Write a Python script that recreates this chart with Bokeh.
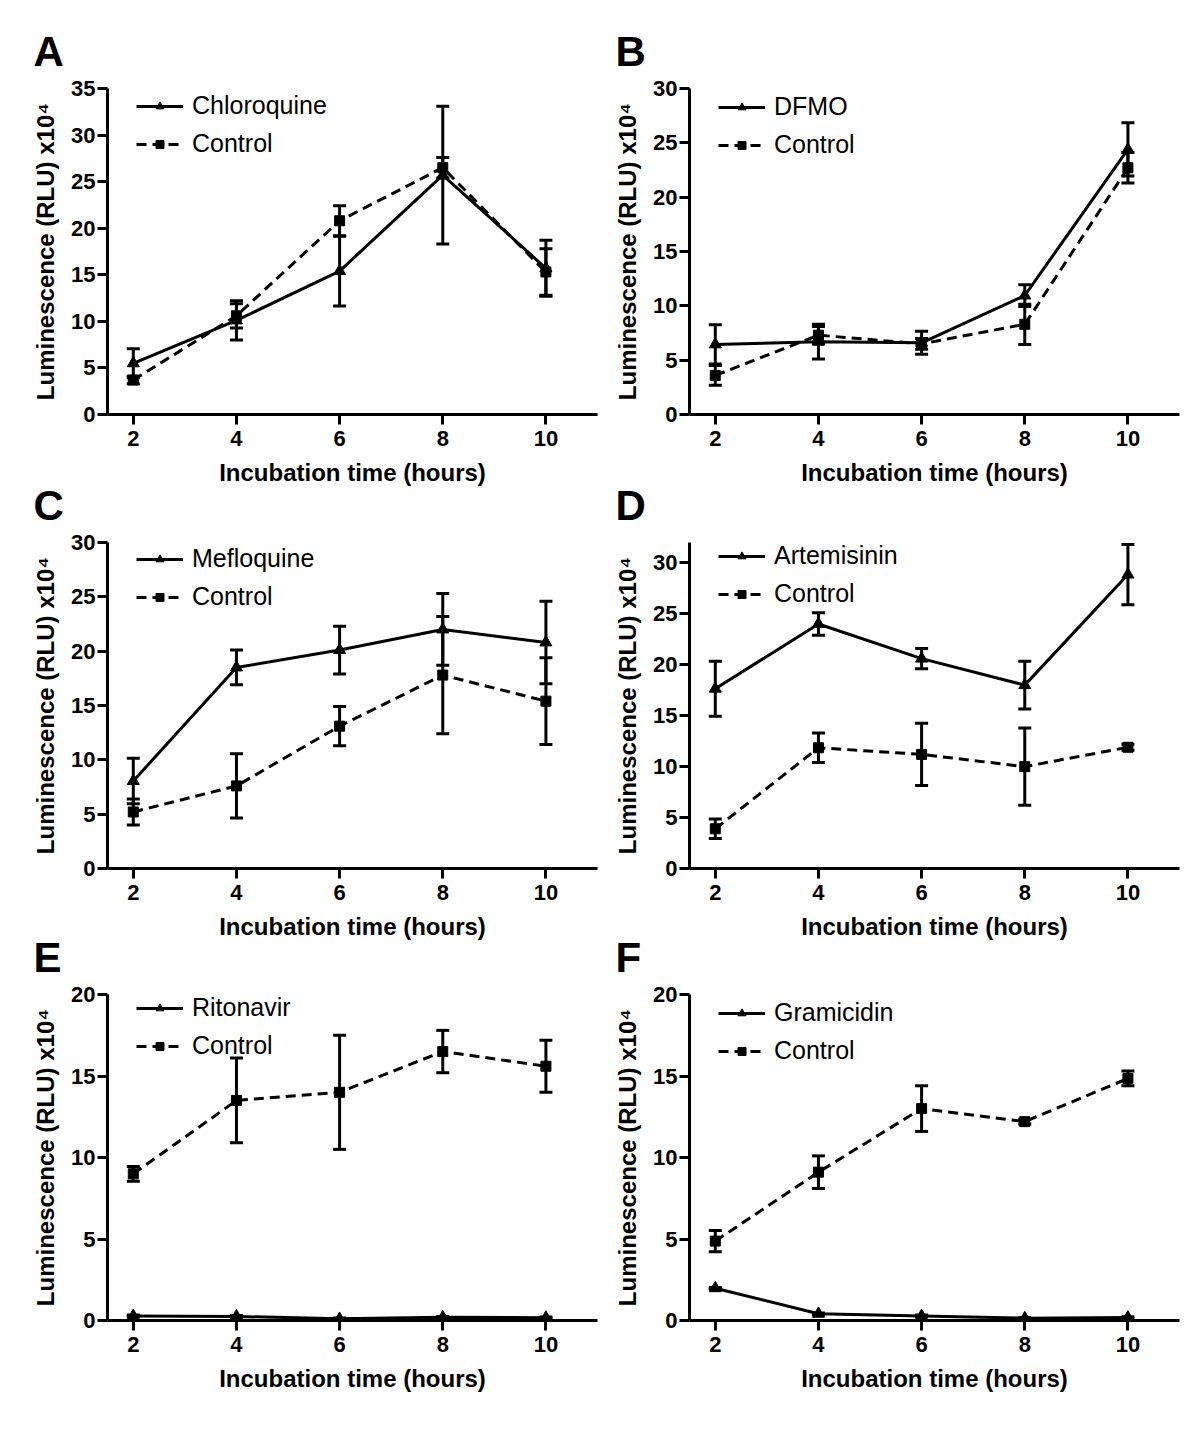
from bokeh.plotting import figure
from bokeh.models import (Range1d, FixedTicker, Legend, LegendItem, Whisker,
                          ColumnDataSource, TeeHead)
from bokeh.layouts import column, row
from bokeh.embed import file_html
from bokeh.resources import INLINE

# ---------------- data ----------------
hours = [2, 4, 6, 8, 10]

chloroquine_mean = [5.5, 10.1, 15.4, 25.7, 15.7]
chloroquine_err = [1.55, 2.1, 3.75, 7.4, 3.0]
control_a_mean = [3.7, 10.6, 20.8, 26.5, 15.3]
control_a_err = [0.4, 1.3, 1.6, 1.1, 2.5]

dfmo_mean = [6.45, 6.7, 6.6, 10.95, 24.4]
dfmo_err = [1.8, 1.6, 1.05, 1.0, 2.45]
control_b_mean = [3.6, 7.3, 6.5, 8.3, 22.7]
control_b_err = [0.9, 0.8, 0.5, 1.85, 1.4]

mefloquine_mean = [8.05, 18.5, 20.1, 22.0, 20.8]
mefloquine_err = [2.1, 1.6, 2.2, 3.3, 3.8]
control_c_mean = [5.2, 7.6, 13.1, 17.8, 15.4]
control_c_err = [1.2, 2.95, 1.8, 5.4, 4.0]

artemisinin_mean = [17.65, 24.0, 20.6, 18.0, 28.85]
artemisinin_err = [2.7, 1.1, 1.0, 2.35, 2.95]
control_d_mean = [3.9, 11.85, 11.2, 10.0, 11.9]
control_d_err = [0.95, 1.45, 3.05, 3.8, 0.3]

ritonavir_mean = [0.28, 0.25, 0.1, 0.2, 0.17]
ritonavir_err = [0.05, 0.05, 0.05, 0.05, 0.05]
control_e_mean = [9.0, 13.5, 14.0, 16.5, 15.6]
control_e_err = [0.45, 2.6, 3.5, 1.3, 1.6]

gramicidin_mean = [1.98, 0.41, 0.28, 0.14, 0.18]
gramicidin_err = [0.05, 0.05, 0.05, 0.05, 0.05]
control_f_mean = [4.87, 9.1, 13.0, 12.2, 14.85]
control_f_err = [0.65, 1.0, 1.4, 0.15, 0.45]

x_ticks = [2, 4, 6, 8, 10]
x_title = "Incubation time (hours)"
y_title = "Luminescence (RLU) x10\u2074"

# ---------------- styling ----------------
FONT = "Liberation Sans"
FRAME_W = 490
FRAME_H = 326
LEG_H = 67


def make_panel(letter, drug, drug_mean, drug_err, ctrl_mean, ctrl_err, ymax, yticks,
               left, right, top, bottom, legend_row1):
    p = figure(frame_width=FRAME_W, frame_height=FRAME_H,
               x_range=Range1d(1.5, 11.0), y_range=Range1d(0, ymax),
               output_backend="svg", toolbar_location=None,
               min_border_left=left, min_border_right=right,
               min_border_top=top, min_border_bottom=bottom,
               background_fill_color="white", background_fill_alpha=0,
               border_fill_color="white", border_fill_alpha=0)
    p.outline_line_color = None
    p.xgrid.visible = False
    p.ygrid.visible = False

    # panel letter as title
    p.title.text = letter
    p.title.text_font = FONT
    p.title.text_font_style = "bold"
    p.title.text_font_size = "42px"
    p.title.text_color = "black"
    p.title.align = "left"
    p.title.offset = -74
    p.title.standoff = 28

    for ax in (p.xaxis[0], p.yaxis[0]):
        ax.axis_line_width = 3
        ax.axis_line_color = "black"
        ax.major_tick_line_width = 3
        ax.major_tick_line_color = "black"
        ax.major_tick_out = 10
        ax.major_tick_in = 0
        ax.minor_tick_out = 0
        ax.minor_tick_in = 0
        ax.minor_tick_line_color = None
        ax.major_label_text_font = FONT
        ax.major_label_text_font_style = "bold"
        ax.major_label_text_font_size = "22px"
        ax.major_label_text_color = "black"
        ax.axis_label_text_font = FONT
        ax.axis_label_text_font_style = "bold"
        ax.axis_label_text_font_size = "24px"
        ax.axis_label_text_color = "black"
    p.xaxis.ticker = FixedTicker(ticks=x_ticks)
    p.yaxis.ticker = FixedTicker(ticks=yticks)
    p.xaxis.axis_label = x_title
    p.yaxis.axis_label = y_title
    p.xaxis.major_label_standoff = 6
    p.yaxis.major_label_standoff = 2
    p.xaxis.axis_label_standoff = 10
    p.yaxis.axis_label_standoff = 9

    dsrc = ColumnDataSource(dict(x=hours, y=drug_mean,
                                 upper=[m + e for m, e in zip(drug_mean, drug_err)],
                                 lower=[m - e for m, e in zip(drug_mean, drug_err)]))
    csrc = ColumnDataSource(dict(x=hours, y=ctrl_mean,
                                 upper=[m + e for m, e in zip(ctrl_mean, ctrl_err)],
                                 lower=[m - e for m, e in zip(ctrl_mean, ctrl_err)]))

    for src in (dsrc, csrc):
        w = Whisker(source=src, base="x", upper="upper", lower="lower",
                    line_width=3, line_color="black",
                    upper_head=TeeHead(size=13, line_width=3, line_color="black"),
                    lower_head=TeeHead(size=13, line_width=3, line_color="black"))
        p.add_layout(w)

    l1 = p.line("x", "y", source=dsrc, line_width=3, line_color="black")
    m1 = p.scatter("x", "y", source=dsrc, marker="triangle", size=12,
                   fill_color="black", line_color="black")
    l2 = p.line("x", "y", source=csrc, line_width=3, line_color="black", line_dash="10 6")
    m2 = p.scatter("x", "y", source=csrc, marker="square", size=10,
                   fill_color="black", line_color="black")

    legend = Legend(items=[LegendItem(label=drug, renderers=[l1, m1]),
                           LegendItem(label="Control", renderers=[l2, m2])],
                    location=(29, FRAME_H - (legend_row1 - 14) - LEG_H),
                    glyph_width=47, glyph_height=20, label_height=20,
                    label_standoff=9, spacing=9, padding=0, margin=0,
                    border_line_color=None, background_fill_alpha=0,
                    label_text_font=FONT, label_text_font_size="25px",
                    label_text_color="black")
    p.add_layout(legend)
    return p


pa = make_panel("A", "Chloroquine", chloroquine_mean, chloroquine_err,
                control_a_mean, control_a_err, 35, [0, 5, 10, 15, 20, 25, 30, 35],
                107, 3, 88, 74, 17)
pb = make_panel("B", "DFMO", dfmo_mean, dfmo_err,
                control_b_mean, control_b_err, 30, [0, 5, 10, 15, 20, 25, 30],
                89, 12, 87, 75, 18)
pc = make_panel("C", "Mefloquine", mefloquine_mean, mefloquine_err,
                control_c_mean, control_c_err, 30, [0, 5, 10, 15, 20, 25, 30],
                107, 3, 84, 74, 16)
pd = make_panel("D", "Artemisinin", artemisinin_mean, artemisinin_err,
                control_d_mean, control_d_err, 32, [0, 5, 10, 15, 20, 25, 30],
                89, 12, 83, 75, 13)
pe = make_panel("E", "Ritonavir", ritonavir_mean, ritonavir_err,
                control_e_mean, control_e_err, 20, [0, 5, 10, 15, 20],
                107, 3, 84, 90, 13)
pf = make_panel("F", "Gramicidin", gramicidin_mean, gramicidin_err,
                control_f_mean, control_f_err, 20, [0, 5, 10, 15, 20],
                89, 12, 84, 90, 18)

layout = column(row(pa, pb),
                row(pc, pd, margin=(-30, 0, 0, 0)),
                row(pe, pf, margin=(-32, 0, 0, 0)))

with open("out.html", "w") as f:
    f.write(file_html(layout, INLINE))
